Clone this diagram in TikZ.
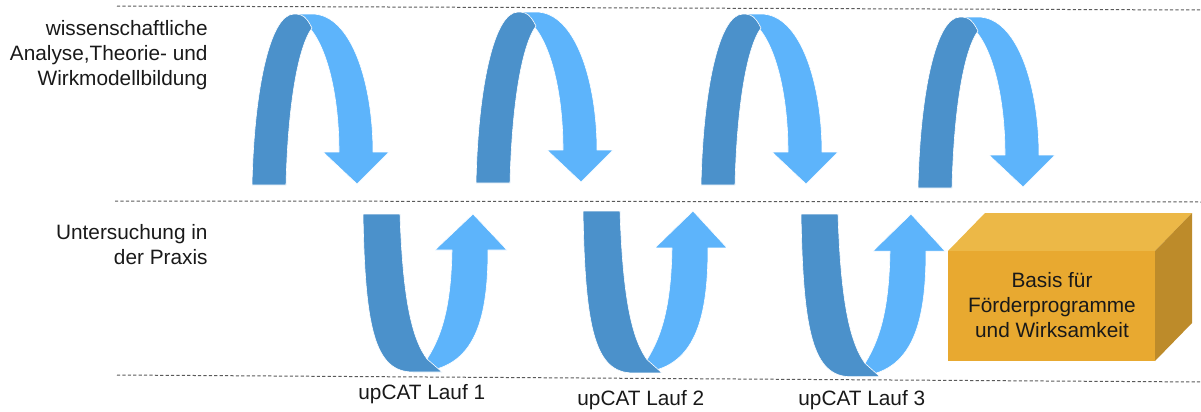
\documentclass[tikz,border=0pt]{standalone}
\usepackage{fontspec}
\setmainfont{Liberation Sans}

\definecolor{arcdark}{HTML}{4B91CB}
\definecolor{arclight}{HTML}{5DB4FB}
\definecolor{boxfront}{HTML}{E8A930}
\definecolor{boxtop}{HTML}{ECB847}
\definecolor{boxside}{HTML}{BD8B2A}
\definecolor{guide}{HTML}{5A5A5A}

\tikzset{
  guideline/.style={draw=guide, line width=0.5pt, dash pattern=on 1.6pt off 1.1pt},
  lbl/.style={font=\fontsize{10.4}{12.5}\selectfont, inner sep=0pt, text=black!90},
  ribbon/.style={draw=white, line width=0.3pt, line join=round},
  % arch arrow: rises on the left, falls on the right into an arrow head
  archarrow/.pic={
    \path[ribbon, fill=arclight]
      (45,-171) -- (60,-171) .. controls (100,-171) and (121,-100) .. (121,-33)
      -- (137,-33) -- (105,-1) -- (71,-33) -- (87,-33)
      .. controls (87,-90) and (75,-140) .. (55,-160) -- cycle;
    \path[ribbon, fill=arcdark]
      (0,0) -- (34,0) .. controls (36,-80) and (46,-138) .. (60,-157)
      .. controls (57,-163) and (54,-168) .. (49,-170)
      .. controls (46,-171) and (44,-171) .. (42,-171)
      .. controls (18,-171) and (2,-95) .. (0,0) -- cycle;
  },
  % U arrow: descends on the left, rises on the right into an arrow head
  uarrow/.pic={
    \path[ribbon, fill=arclight]
      (50,158) .. controls (110,158) and (125,110) .. (125,36)
      -- (144,36) -- (110,0) -- (72,36) -- (89,36)
      .. controls (88,90) and (80,120) .. (64,145) -- cycle;
    \path[ribbon, fill=arcdark]
      (0,0) -- (37,0) .. controls (40,90) and (50,126) .. (64,145)
      -- (79,158) -- (50,158) .. controls (12,158) and (2,115) .. (0,0) -- cycle;
  }
}

\begin{document}
\begin{tikzpicture}[x=0.5pt, y=-0.5pt]
\useasboundingbox (0,0) rectangle (1201,412);

% level guide lines
\coordinate (topL) at (117,6);   \coordinate (topR) at (1201,10);
\coordinate (midL) at (115,201); \coordinate (midR) at (1201,202);
\coordinate (botL) at (117,375); \coordinate (botR) at (1201,382);
\draw[guideline] (topL) -- (topR);
\draw[guideline] (midL) -- (midR);
\draw[guideline] (botL) -- (botR);

% level labels
\node[lbl, anchor=north east, align=right] (theory) at (208,20)
  {wissenschaftliche\\Analyse,Theorie- und\\Wirkmodellbildung};
\node[lbl, anchor=north east, align=right] (practice) at (208,224)
  {Untersuchung in\\der Praxis};

% theory arches
\pic (arch1) at (252,185) {archarrow};
\pic (arch2) at (476,183) {archarrow};
\pic (arch3) at (701,185) {archarrow};
\pic (arch4) at (918,188) {archarrow};

% practice loops
\pic (run1) at (363,214) {uarrow};
\pic[yscale=1.025] (run2) at (583,211) {uarrow};
\pic[yscale=1.03] (run3) at (801,214) {uarrow};

% run labels
\node[lbl, anchor=base west] (lauf1) at (358,399) {upCAT Lauf 1};
\node[lbl, anchor=base west] (lauf2) at (577,405) {upCAT Lauf 2};
\node[lbl, anchor=base west] (lauf3) at (798,405) {upCAT Lauf 3};

% result block
\coordinate (fbl) at (948,361);  \coordinate (fbr) at (1155,361);
\coordinate (ftl) at (948,251);  \coordinate (ftr) at (1155,251);
\coordinate (btl) at (985,213);  \coordinate (btr) at (1192,213);
\coordinate (bbr) at (1192,323);
\fill[boxtop] (ftl) -- (btl) -- (btr) -- (ftr) -- cycle;
\fill[boxside] (ftr) -- (btr) -- (bbr) -- (fbr) -- cycle;
\fill[boxfront] (ftl) rectangle (fbr);
\node[lbl, anchor=north, align=center] (basis) at (1052,272)
  {Basis für\\Förderprogramme\\und Wirksamkeit};
\end{tikzpicture}
\end{document}
